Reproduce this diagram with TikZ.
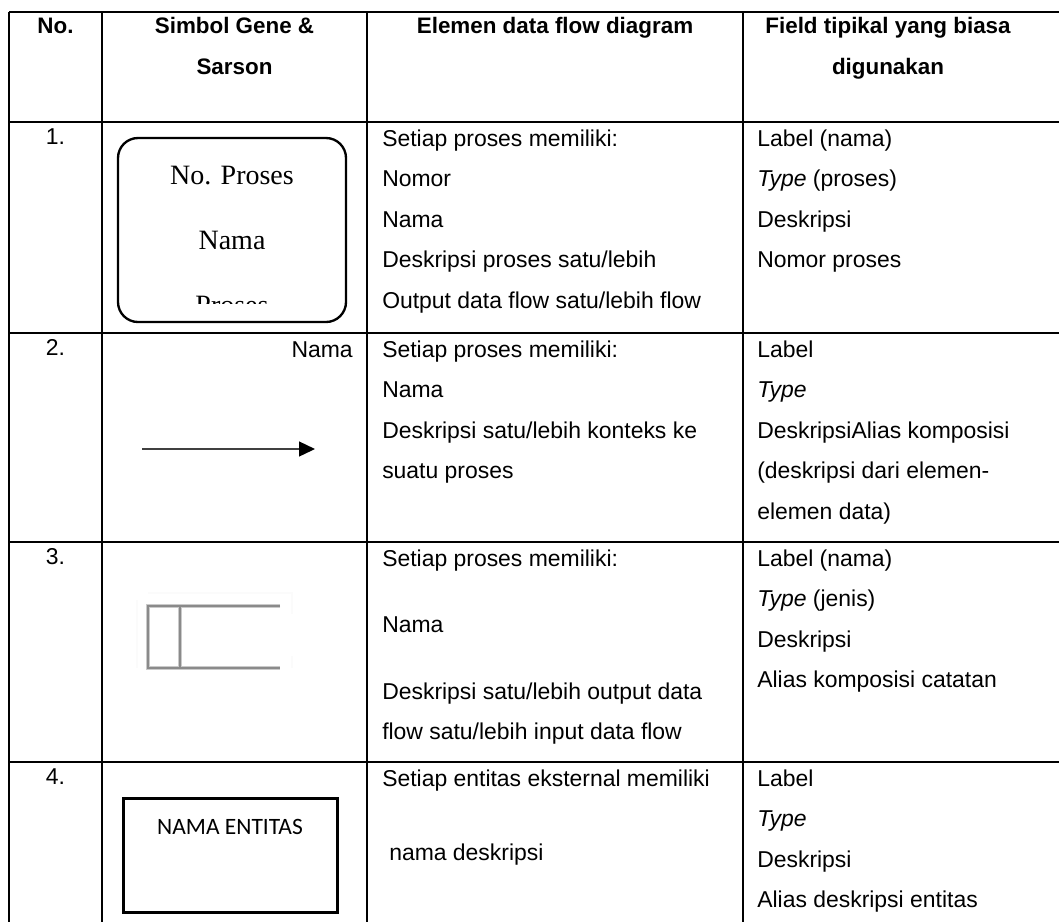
\documentclass[tikz,border=0pt]{standalone}
\usepackage{fontspec}
\setmainfont{Liberation Sans}
\newfontfamily\serifface{Liberation Serif}
\newfontfamily\calibface{Carlito}
\usetikzlibrary{arrows.meta}
\definecolor{storegrey}{HTML}{8A8A8A}
\definecolor{flowgrey}{HTML}{404040}

\begin{document}
\begin{tikzpicture}[x=0.75pt,y=-0.75pt,
  gridline/.style={line width=1.2pt, black},
  headtxt/.style={anchor=base, inner sep=0pt, font=\fontsize{16.8}{20}\selectfont\bfseries},
  bodytxt/.style={anchor=base west, inner sep=0pt, font=\fontsize{17.2}{20}\selectfont},
  numtxt/.style={anchor=base, inner sep=0pt, font=\fontsize{17.2}{20}\selectfont},
  proctxt/.style={anchor=base, inner sep=0pt, font=\serifface\fontsize{21}{24}\selectfont},
  procbox/.style={draw, line width=1.75pt, rounded corners=15pt, minimum width=171pt, minimum height=138pt, inner sep=0pt},
  entitybox/.style={draw, line width=2.2pt, minimum width=161pt, minimum height=85pt, inner sep=0pt},
  storeline/.style={storegrey, line width=1.5pt},
  storehaze/.style={storegrey!45, line width=3pt},
  storeghost/.style={gray!3, line width=1pt},
]
\useasboundingbox[fill=white] (0,0) rectangle (1059,922);

% table rules
\draw[gridline] (9,12) -- (1059,12);
\foreach \yy in {122,333,542,762} \draw[gridline] (9,\yy) -- (1059,\yy);
\foreach \xx in {9,102,367,743} \draw[gridline] (\xx,12) -- (\xx,922);

% header
\node[headtxt] (hNo) at (55.5,33) {No.};
\node[headtxt] (hSym1) at (234.5,33) {Simbol Gene \&};
\node[headtxt] (hSym2) at (234.5,74) {Sarson};
\node[headtxt] (hElem) at (555,33) {Elemen data flow diagram};
\node[headtxt] (hField1) at (888,33) {Field tipikal yang biasa};
\node[headtxt] (hField2) at (888,74) {digunakan};

% row numbers
\node[numtxt] (n1) at (55.5,144) {1.};
\node[numtxt] (n2) at (55.5,355) {2.};
\node[numtxt] (n3) at (55.5,564) {3.};
\node[numtxt] (n4) at (55.5,784) {4.};

% 1: process symbol, its third line cut off by the box
\node[procbox] (proc) at (232,230) {};
\begin{scope}
  \clip (118,138) rectangle (346,303);
  \node[proctxt] (procNo) at (232,184) {No. Proses};
  \node[proctxt] (procName) at (232,249) {Nama};
  \node[proctxt] (procLast) at (232,314) {Proses};
\end{scope}

% 2: data flow symbol
\node[bodytxt, anchor=base east] (flowName) at (353,357) {Nama};
\coordinate (flowTail) at (142,449);
\coordinate (flowHead) at (315,449);
\draw[flowgrey, line width=1pt, -{Triangle[length=12pt, width=11.25pt, color=black]}] (flowTail) -- (flowHead);

% 3: data store symbol (soft grey strokes)
\draw[storeghost] (148,593) -- (292,593) -- (292,614);
\draw[storeghost] (292,656) -- (292,668);
\draw[storeghost] (137,600) -- (137,668);
\draw[storehaze] (280,606) -- (148,606) -- (148,668) -- (280,668);
\draw[storehaze] (180,606) -- (180,668);
\draw[storeline] (280,606) -- (148,606) -- (148,668) -- (280,668);
\draw[storeline] (180,606) -- (180,668);

% 4: external entity symbol
\node[entitybox] (entity) at (230.5,855.5) {};
\node[anchor=base, inner sep=0pt, font=\calibface\fontsize{17.6}{20}\selectfont] (entityName) at (230,834) {NAMA ENTITAS};

% column 3 text
\node[bodytxt] (e1a) at (382,146) {Setiap proses memiliki:};
\node[bodytxt] (e1b) at (382,186.5) {Nomor};
\node[bodytxt] (e1c) at (382,227) {Nama};
\node[bodytxt] (e1d) at (382,267.5) {Deskripsi proses satu/lebih};
\node[bodytxt] (e1e) at (382,308) {Output data flow satu/lebih flow};

\node[bodytxt] (e2a) at (382,357) {Setiap proses memiliki:};
\node[bodytxt] (e2b) at (382,397.5) {Nama};
\node[bodytxt] (e2c) at (382,438) {Deskripsi satu/lebih konteks ke};
\node[bodytxt] (e2d) at (382,478.5) {suatu proses};

\node[bodytxt] (e3a) at (382,566) {Setiap proses memiliki:};
\node[bodytxt] (e3b) at (382,632.5) {Nama};
\node[bodytxt] (e3c) at (382,699) {Deskripsi satu/lebih output data};
\node[bodytxt] (e3d) at (382,739.5) {flow satu/lebih input data flow};

\node[bodytxt] (e4a) at (382,786) {Setiap entitas eksternal memiliki};
\node[bodytxt] (e4b) at (389,860) {nama deskripsi};

% column 4 text
\node[bodytxt] (f1a) at (757,146) {Label (nama)};
\node[bodytxt] (f1b) at (757,186.5) {\textit{Type} (proses)};
\node[bodytxt] (f1c) at (757,227) {Deskripsi};
\node[bodytxt] (f1d) at (757,267.5) {Nomor proses};

\node[bodytxt] (f2a) at (757,357) {Label};
\node[bodytxt] (f2b) at (757,397.5) {\textit{Type}};
\node[bodytxt] (f2c) at (757,438) {DeskripsiAlias komposisi};
\node[bodytxt] (f2d) at (757,478.5) {(deskripsi dari elemen-};
\node[bodytxt] (f2e) at (757,519) {elemen data)};

\node[bodytxt] (f3a) at (757,566) {Label (nama)};
\node[bodytxt] (f3b) at (757,606.5) {\textit{Type} (jenis)};
\node[bodytxt] (f3c) at (757,647) {Deskripsi};
\node[bodytxt] (f3d) at (757,687.5) {Alias komposisi catatan};

\node[bodytxt] (f4a) at (757,786) {Label};
\node[bodytxt] (f4b) at (757,826.5) {\textit{Type}};
\node[bodytxt] (f4c) at (757,867) {Deskripsi};
\node[bodytxt] (f4d) at (757,907.5) {Alias deskripsi entitas};
\end{tikzpicture}
\end{document}
